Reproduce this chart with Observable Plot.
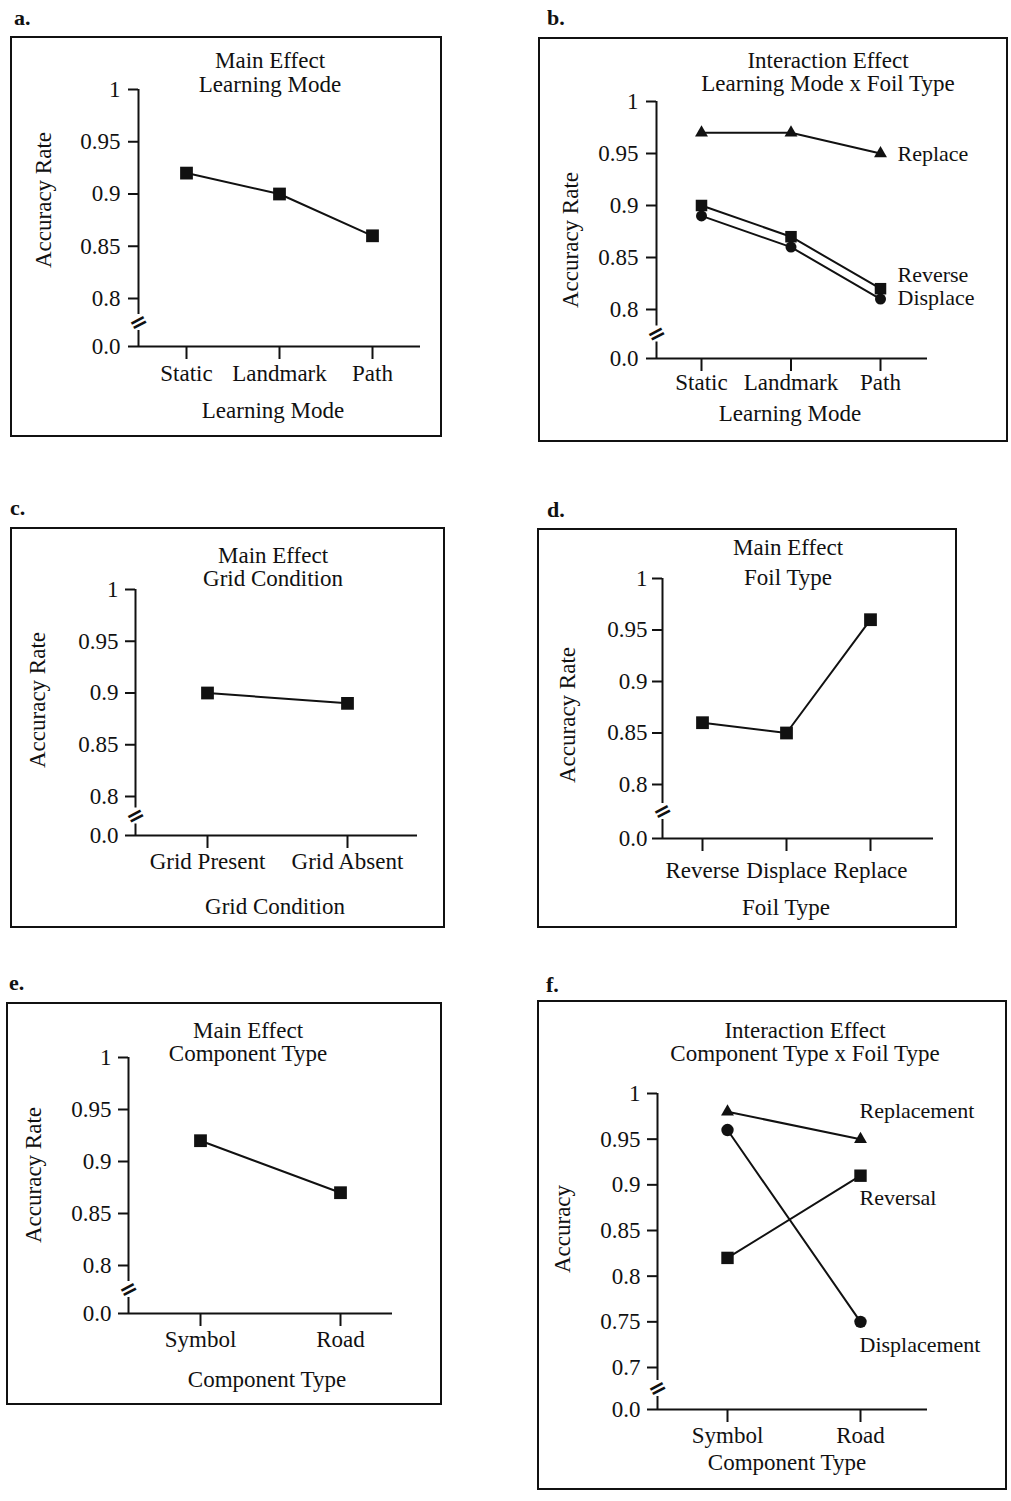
<!DOCTYPE html>
<html><head><meta charset="utf-8">
<script src="https://cdn.jsdelivr.net/npm/d3@7"></script>
<script src="https://cdn.jsdelivr.net/npm/@observablehq/plot@0.6"></script>
<style>
body{margin:0;background:#fff;}
#page{position:relative;width:1011px;height:1501px;overflow:hidden;font-family:"Liberation Serif","Times New Roman",serif;color:#111;background:#fff;}
.box{position:absolute;border:2px solid #111;box-sizing:border-box;}
.txt{position:absolute;white-space:nowrap;line-height:1;}
</style></head><body><div id="page"></div>
<script>
// ---------- data ----------
const learningModes = ["Static", "Landmark", "Path"];
const learningModeAcc = [0.92, 0.90, 0.86];

const replaceByMode = [0.97, 0.97, 0.95];
const reverseByMode = [0.90, 0.87, 0.82];
const displaceByMode = [0.89, 0.86, 0.81];
const seriesNamesB = ["Replace", "Reverse", "Displace"];

const gridConditions = ["Grid Present", "Grid Absent"];
const gridAcc = [0.90, 0.89];

const foilTypes = ["Reverse", "Displace", "Replace"];
const foilAcc = [0.86, 0.85, 0.96];

const componentTypes = ["Symbol", "Road"];
const componentAcc = [0.92, 0.87];

const replacementByComp = [0.98, 0.95];
const reversalByComp = [0.82, 0.91];
const displacementByComp = [0.96, 0.75];
const seriesNamesF = ["Replacement", "Reversal", "Displacement"];

const yTicksMain = [0.8, 0.85, 0.9, 0.95, 1];
const yTickLabelsMain = ["0.8", "0.85", "0.9", "0.95", "1"];
const yTicksF = [0.7, 0.75, 0.8, 0.85, 0.9, 0.95, 1];
const yTickLabelsF = ["0.7", "0.75", "0.8", "0.85", "0.9", "0.95", "1"];
const breakLabel = "0.0";

const panelLetters = ["a.", "b.", "c.", "d.", "e.", "f."];
const panelTitles = [
  ["Main Effect", "Learning Mode"],
  ["Interaction Effect", "Learning Mode x Foil Type"],
  ["Main Effect", "Grid Condition"],
  ["Main Effect", "Foil Type"],
  ["Main Effect", "Component Type"],
  ["Interaction Effect", "Component Type x Foil Type"]
];
const xTitles = ["Learning Mode", "Learning Mode", "Grid Condition", "Foil Type", "Component Type", "Component Type"];
const yTitles = ["Accuracy Rate", "Accuracy Rate", "Accuracy Rate", "Accuracy Rate", "Accuracy Rate", "Accuracy"];

// ---------- layout (page pixels) ----------
const layouts = [
  {box:{l:10,t:36,r:442,b:437}, axisX:138, xEnd:420, tickX:[186,372], y1px:89, lowPx:298, y0px:346, tickBase:380, yPad:8,
   title:{cx:270,b:[68,92]}, xt:{cx:273,b:418}, yt:{cx:43,cy:200}, letter:{x:14,b:25}},
  {box:{l:538,t:37,r:1008,b:442}, axisX:656, xEnd:927, tickX:[701,880], y1px:101, lowPx:309, y0px:358, tickBase:389, yPad:8,
   title:{cx:828,b:[68,91]}, xt:{cx:790,b:421}, yt:{cx:570,cy:240}, letter:{x:547,b:25}},
  {box:{l:10,t:527,r:445,b:928}, axisX:135, xEnd:417, tickX:[207,347], y1px:589, lowPx:796, y0px:835, tickBase:868, yPad:7,
   title:{cx:273,b:[563,586]}, xt:{cx:275,b:914}, yt:{cx:37,cy:700}, letter:{x:10,b:515}},
  {box:{l:537,t:528,r:957,b:928}, axisX:662, xEnd:933, tickX:[702,870], y1px:578, lowPx:784, y0px:838, tickBase:877, yPad:5,
   title:{cx:788,b:[555,585]}, xt:{cx:786,b:915}, yt:{cx:567,cy:715}, letter:{x:547,b:517}},
  {box:{l:6,t:1002,r:442,b:1405}, axisX:128, xEnd:392, tickX:[200,340], y1px:1057, lowPx:1265, y0px:1313, tickBase:1346, yPad:7,
   title:{cx:248,b:[1038,1061]}, xt:{cx:267,b:1387}, yt:{cx:33,cy:1175}, letter:{x:9,b:990}},
  {box:{l:537,t:1000,r:1007,b:1490}, axisX:657, xEnd:927, tickX:[727,860], y1px:1093, lowPx:1367, y0px:1409, tickBase:1442, yPad:7,
   title:{cx:805,b:[1038,1061]}, xt:{cx:787,b:1470}, yt:{cx:562,cy:1229}, letter:{x:546,b:992}}
];

const ink = "#111";
const FS = 23;
const page = document.getElementById("page");

function txt(str, x, baseline, {anchor = "start", size = FS, weight = "normal"} = {}) {
  const d = document.createElement("div");
  d.className = "txt";
  d.textContent = str;
  d.style.fontSize = size + "px";
  d.style.fontWeight = weight;
  d.style.left = x + "px";
  d.style.top = (baseline - 0.8375 * size) + "px";
  if (anchor === "middle") d.style.transform = "translateX(-50%)";
  page.appendChild(d);
}
function vtxt(str, cx, cy, size = FS) {
  const d = document.createElement("div");
  d.className = "txt";
  d.textContent = str;
  d.style.fontSize = size + "px";
  d.style.left = cx + "px";
  d.style.top = cy + "px";
  d.style.transform = "translate(-50%,-50%) rotate(-90deg)";
  page.appendChild(d);
}

function drawPanel(k, cats, series, yTicks, yTickLabels) {
  const L = layouts[k];
  const W = L.box.r - L.box.l, H = L.box.b - L.box.t;
  const n = cats.length;
  const lowVal = yTicks[0];
  const ppu = (L.lowPx - L.y1px) / (1 - lowVal);
  const v0 = lowVal - (L.y0px - L.lowPx) / ppu;
  const vBreak = lowVal - ((L.y0px - L.lowPx) / 2) / ppu;
  const gap = 8 / ppu;
  const xAxisVal = (L.axisX - L.tickX[0]) / (L.tickX[1] - L.tickX[0]) * (n - 1);
  const allTicks = [v0, ...yTicks];
  const allLabels = [breakLabel, ...yTickLabels];

  const marks = [
    Plot.ruleY([v0], {stroke: ink, strokeWidth: 2}),
    Plot.ruleX([xAxisVal], {y1: () => vBreak + gap, y2: () => 1, stroke: ink, strokeWidth: 2}),
    Plot.ruleX([xAxisVal], {y1: () => v0, y2: () => vBreak - gap, stroke: ink, strokeWidth: 2}),
    Plot.text([vBreak], {x: () => xAxisVal, y: d => d, text: () => "=", rotate: -28, fontSize: 22, fontWeight: "bold", fontFamily: "DejaVu Sans", fill: ink}),
    Plot.axisY(allTicks, {tickFormat: d => allLabels[allTicks.indexOf(d)], tickSize: 10, tickPadding: L.yPad, strokeWidth: 2, stroke: ink, fill: ink, label: null}),
    Plot.axisX(d3.range(n), {tickFormat: i => cats[i], tickSize: 13, tickPadding: L.tickBase - L.y0px - 13 - 0.71 * FS, strokeWidth: 2, stroke: ink, fill: ink, label: null})
  ];
  const rowsets = series.map(s => s.values.map((v, i) => ({i, v})));
  series.forEach((s, j) => marks.push(Plot.line(rowsets[j], {x: "i", y: "v", stroke: ink, strokeWidth: 2})));
  series.forEach((s, j) => {
    marks.push(Plot.dot(rowsets[j], {x: "i", y: "v", symbol: s.symbol, r: s.r, fill: ink, stroke: "none"}));
    if (s.label) {
      const last = rowsets[j][rowsets[j].length - 1];
      marks.push(Plot.text([last], {x: "i", y: "v", text: () => s.label, textAnchor: "start", dx: s.dx, dy: s.dy, fontSize: 22, fill: ink}));
    }
  });

  const box = document.createElement("div");
  box.className = "box";
  Object.assign(box.style, {left: L.box.l + "px", top: L.box.t + "px", width: W + "px", height: H + "px"});
  page.appendChild(box);

  const svg = Plot.plot({
    width: W, height: H,
    marginLeft: L.axisX - L.box.l,
    marginRight: L.box.r - L.xEnd,
    marginTop: L.y1px - L.box.t,
    marginBottom: L.box.b - L.y0px,
    x: {type: "linear", domain: [0, n - 1], range: [L.tickX[0] - L.box.l, L.tickX[1] - L.box.l], label: null},
    y: {type: "linear", domain: [v0, 1], label: null},
    marks
  });
  Object.assign(svg.style, {position: "absolute", left: L.box.l + "px", top: L.box.t + "px",
    fontFamily: '"Liberation Serif","Times New Roman",serif', fontSize: FS + "px", color: ink,
    background: "transparent", overflow: "visible"});
  page.appendChild(svg);

  txt(panelLetters[k], L.letter.x, L.letter.b, {size: 22, weight: "bold"});
  txt(panelTitles[k][0], L.title.cx, L.title.b[0], {anchor: "middle"});
  txt(panelTitles[k][1], L.title.cx, L.title.b[1], {anchor: "middle"});
  txt(xTitles[k], L.xt.cx, L.xt.b, {anchor: "middle"});
  vtxt(yTitles[k], L.yt.cx, L.yt.cy);
}

drawPanel(0, learningModes, [{values: learningModeAcc, symbol: "square", r: 7.2}], yTicksMain, yTickLabelsMain);
drawPanel(1, learningModes, [
  {values: replaceByMode, symbol: "triangle", r: 4.8, label: seriesNamesB[0], dx: 17, dy: 0},
  {values: reverseByMode, symbol: "square", r: 6.5, label: seriesNamesB[1], dx: 17, dy: -14},
  {values: displaceByMode, symbol: "circle", r: 5.5, label: seriesNamesB[2], dx: 17, dy: -1}
], yTicksMain, yTickLabelsMain);
drawPanel(2, gridConditions, [{values: gridAcc, symbol: "square", r: 7.2}], yTicksMain, yTickLabelsMain);
drawPanel(3, foilTypes, [{values: foilAcc, symbol: "square", r: 7.2}], yTicksMain, yTickLabelsMain);
drawPanel(4, componentTypes, [{values: componentAcc, symbol: "square", r: 7.2}], yTicksMain, yTickLabelsMain);
drawPanel(5, componentTypes, [
  {values: replacementByComp, symbol: "triangle", r: 4.8, label: seriesNamesF[0], dx: -1, dy: -28},
  {values: reversalByComp, symbol: "square", r: 7, label: seriesNamesF[1], dx: -1, dy: 22},
  {values: displacementByComp, symbol: "circle", r: 6.2, label: seriesNamesF[2], dx: -1, dy: 23}
], yTicksF, yTickLabelsF);
</script>
</body></html>
